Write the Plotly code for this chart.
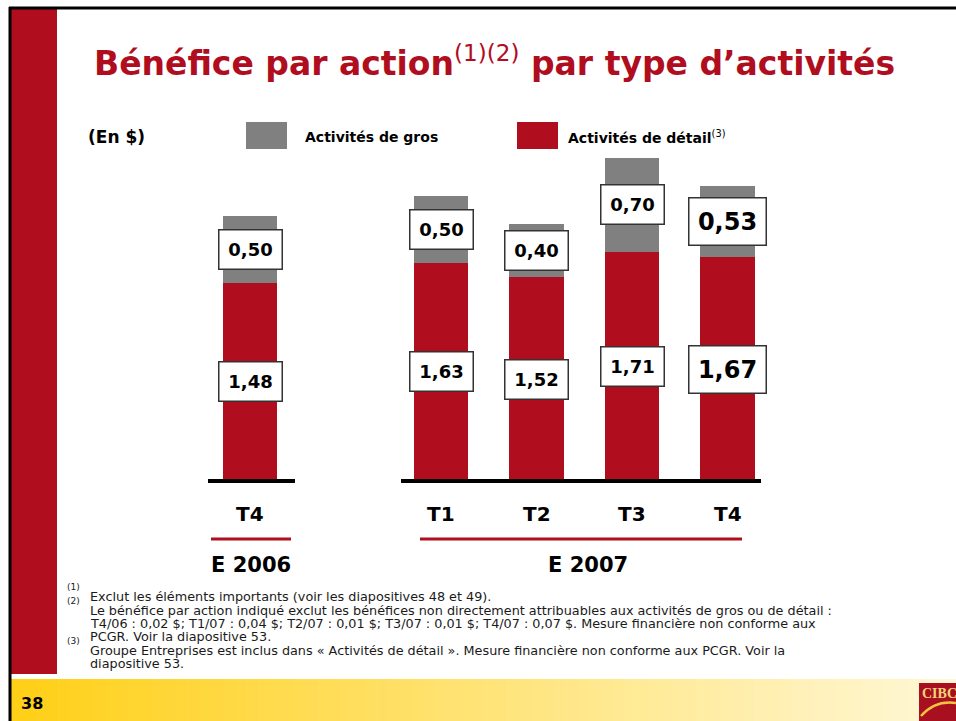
import plotly.graph_objects as go

# data
periods = ["T4", "T1", "T2", "T3", "T4"]
positions = [0, 2, 3, 4, 5]
detail = [1.48, 1.63, 1.52, 1.71, 1.67]
gros = [0.50, 0.50, 0.40, 0.70, 0.53]
detail_labels = ["1,48", "1,63", "1,52", "1,71", "1,67"]
gros_labels = ["0,50", "0,50", "0,40", "0,70", "0,53"]
years = ["E 2006", "E 2007"]

RED = "#B00D1E"
GREY = "#808080"
FONT = "DejaVu Sans"
W, H = 956, 721

def px(x):
    return x / W

def py(y):
    return 1 - y / H

def note(x, y, text, size, color="black", xanchor="left", family=FONT):
    # paper-positioned text, given in page pixels
    return dict(x=px(x), y=py(y), xref="paper", yref="paper", xanchor=xanchor, yanchor="middle",
                text=text, showarrow=False, font=dict(family=family, size=size, color=color))

fig = go.Figure()

fig.add_trace(go.Bar(x=positions, y=detail, marker=dict(color=RED, line=dict(width=0)),
                     width=0.57, hoverinfo="skip"))
fig.add_trace(go.Bar(x=positions, y=gros, marker=dict(color=GREY, line=dict(width=0)),
                     width=0.57, hoverinfo="skip"))

annotations = []
shapes = []

# boxed value labels, centred in each segment
for i, p in enumerate(positions):
    big = i == len(positions) - 1
    fs = 24 if big else 18
    bw, bh = (74, 44) if big else (60, 36)
    for val, base, lab in [(detail[i], 0, detail_labels[i]), (gros[i], detail[i], gros_labels[i])]:
        annotations.append(dict(
            x=p, y=base + val / 2, xref="x", yref="y", xanchor="center", yanchor="middle",
            text="<b>%s</b>" % lab,
            showarrow=False, font=dict(family=FONT, size=fs, color="black"),
            bgcolor="white", bordercolor="#333", borderwidth=1.5,
            width=bw, height=bh, align="center", valign="middle"))

# category labels
for p, lab in zip(positions, periods):
    annotations.append(dict(x=p, y=py(514), xref="x", yref="paper", xanchor="center", yanchor="middle",
                            text="<b>%s</b>" % lab, showarrow=False,
                            font=dict(family=FONT, size=20, color="black")))

annotations.append(note(251, 565, "<b>%s</b>" % years[0], 21, xanchor="center"))
annotations.append(note(588, 565, "<b>%s</b>" % years[1], 21, xanchor="center"))

# baselines and year underlines
for x0, x1 in [(208, 295), (401, 761)]:
    shapes.append(dict(type="line", xref="paper", yref="paper", x0=px(x0), x1=px(x1),
                       y0=py(481), y1=py(481), line=dict(color="black", width=4)))
for x0, x1 in [(211, 291), (420, 742)]:
    shapes.append(dict(type="line", xref="paper", yref="paper", x0=px(x0), x1=px(x1),
                       y0=py(539), y1=py(539), line=dict(color=RED, width=3)))

# title
annotations.append(note(
    92, 62,
    "<b>Bénéfice par action</b><sup><span style='font-weight:normal'>(1)(2)</span></sup><b> par type d’activités</b>",
    33, color=RED))

# legend
annotations.append(note(86, 137, "<b>(En $)</b>", 17))
shapes.append(dict(type="rect", xref="paper", yref="paper", x0=px(246), x1=px(287), y0=py(122), y1=py(149),
                   fillcolor=GREY, line=dict(width=0)))
annotations.append(note(303, 137, "<b>Activités de gros</b>", 14))
shapes.append(dict(type="rect", xref="paper", yref="paper", x0=px(517), x1=px(558), y0=py(122), y1=py(149),
                   fillcolor=RED, line=dict(width=0)))
annotations.append(note(566, 137, "<b>Activités de détail</b><sup><span style='font-weight:normal'>(3)</span></sup>", 14))

# footnotes
notes = [
    (596, "Exclut les éléments importants (voir les diapositives 48 et 49)."),
    (610, "Le bénéfice par action indiqué exclut les bénéfices non directement attribuables aux activités de gros ou de détail :"),
    (623, "T4/06 : 0,02 $; T1/07 : 0,04 $; T2/07 : 0,01 $; T3/07 : 0,01 $; T4/07 : 0,07 $. Mesure financière non conforme aux"),
    (636, "PCGR. Voir la diapositive 53."),
    (650, "Groupe Entreprises est inclus dans « Activités de détail ». Mesure financière non conforme aux PCGR. Voir la"),
    (663, "diapositive 53."),
]
for y, t in notes:
    annotations.append(note(88, y, t, 12.8, color="#1a1a1a"))
for y, t in [(587, "(1)"), (601, "(2)"), (641, "(3)")]:
    annotations.append(note(65, y, t, 9, color="#1a1a1a"))

# slide frame
shapes.append(dict(type="rect", xref="paper", yref="paper", x0=px(11), x1=px(57), y0=py(674), y1=py(9),
                   fillcolor=RED, line=dict(width=0), layer="below"))
# bottom yellow gradient band
n = 80
c0, c1 = (255, 208, 24), (255, 247, 214)
for k in range(n):
    t = k / (n - 1)
    col = "rgb(%d,%d,%d)" % tuple(round(a + (b - a) * t) for a, b in zip(c0, c1))
    x0 = 11 + (W - 11) * k / n
    x1 = 11 + (W - 11) * (k + 1) / n + 0.6
    shapes.append(dict(type="rect", xref="paper", yref="paper", x0=px(x0), x1=px(x1), y0=py(721), y1=py(679),
                       fillcolor=col, line=dict(width=0), layer="below"))
shapes.append(dict(type="line", xref="paper", yref="paper", x0=px(9), x1=px(W), y0=py(8), y1=py(8),
                   line=dict(color="black", width=3)))
shapes.append(dict(type="line", xref="paper", yref="paper", x0=px(10), x1=px(10), y0=py(7), y1=py(721),
                   line=dict(color="black", width=3)))
annotations.append(note(19, 703, "<b>38</b>", 16))

# logo
shapes.append(dict(type="rect", xref="paper", yref="paper", x0=px(919), x1=px(W), y0=py(721), y1=py(683),
                   fillcolor="#A8101F", line=dict(width=0)))
shapes.append(dict(type="path", xref="paper", yref="paper",
                   path="M %f,%f Q %f,%f %f,%f" % (px(921), py(716), px(935), py(700), px(956), py(703)),
                   line=dict(color="#F5C242", width=2.5)))
annotations.append(note(920, 693, "<b>CIBC</b>", 14, color="#F3D27A", family="Liberation Serif"))

fig.update_layout(
    width=W, height=H,
    margin=dict(l=0, r=0, t=0, b=0),
    barmode="stack",
    showlegend=False,
    paper_bgcolor="white",
    plot_bgcolor="rgba(0,0,0,0)",
    xaxis=dict(range=[-250 / 95.5, (W - 250) / 95.5], visible=False, fixedrange=True),
    yaxis=dict(range=[-(H - 481) / 134, 481 / 134], visible=False, fixedrange=True),
    annotations=annotations,
    shapes=shapes,
)

fig.write_html("out.html", config={"displayModeBar": False},
               post_script="document.body.style.margin='0px';document.body.style.overflow='hidden';")
